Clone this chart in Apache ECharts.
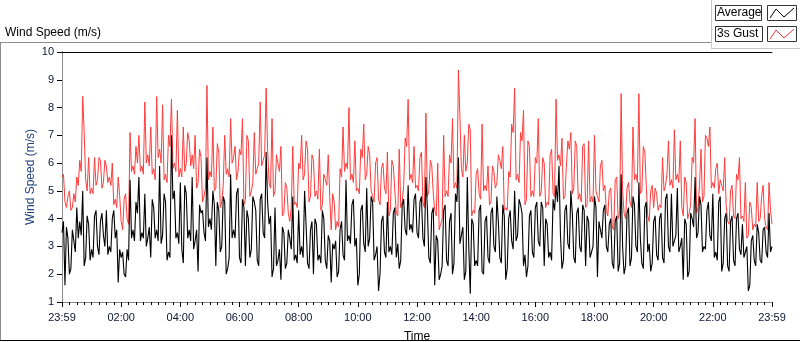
<!DOCTYPE html>
<html>
<head>
<meta charset="utf-8">
<script src="https://cdn.jsdelivr.net/npm/echarts@6/dist/echarts.min.js"></script>
<style>
html,body{margin:0;padding:0;background:#fff;}
#chart{width:800px;height:342px;}
</style>
</head>
<body>
<div id="chart"></div>
<script>
// sample spacing in minutes (first sample at 23:59)
const stepMinutes = 3;
const tickLabels = ['23:59','02:00','04:00','06:00','08:00','10:00','12:00','14:00','16:00','18:00','20:00','22:00','23:59'];
const seriesNames = ['Average','3s Gust'];

const gust = [
5.5,5.6,4.6,4.4,4.8,5.0,4.3,4.4,4.9,4.6,5.5,5.2,6.1,5.7,8.4,7.1,5.4,5.0,6.2,4.9,
5.1,4.9,6.2,5.2,5.4,6.2,6.1,5.1,5.3,6.1,5.9,5.3,5.5,5.2,6.0,4.5,4.7,4.4,5.5,4.8,
3.9,3.6,4.7,4.9,4.0,3.8,7.1,5.7,5.9,5.6,6.6,6.0,7.0,5.7,5.9,5.6,8.2,6.0,6.3,5.9,
7.3,5.6,5.8,5.4,8.4,6.2,6.5,6.0,8.1,5.4,5.6,5.3,7.0,6.6,8.3,5.8,6.0,5.7,7.9,5.5,
5.8,5.5,7.3,5.7,6.0,7.1,6.8,5.9,6.3,5.8,7.0,5.1,5.3,6.5,6.2,4.6,4.8,5.1,8.8,5.4,
5.7,5.5,7.3,5.0,5.1,6.7,6.4,4.4,4.6,5.2,7.0,5.6,5.8,5.5,7.6,6.0,6.2,6.6,5.4,5.7,
6.5,6.3,7.6,4.5,4.7,7.0,6.8,4.8,5.0,5.3,7.1,5.6,5.8,6.0,8.2,5.9,6.1,6.3,8.7,6.5,
5.3,5.1,7.6,4.8,5.0,6.3,6.0,5.7,6.6,4.1,4.2,5.3,5.1,4.2,3.9,4.4,6.6,4.5,4.6,4.4,
6.0,5.8,7.0,5.4,5.6,6.8,6.5,4.6,4.8,6.3,6.1,4.8,5.0,4.7,6.5,4.3,4.5,5.6,5.4,5.2,
6.3,4.8,3.6,4.9,4.6,3.6,3.9,3.7,5.8,5.5,7.3,5.7,6.0,5.8,8.0,5.4,5.6,5.3,6.8,5.0,
5.1,4.9,6.5,6.2,7.4,5.4,5.6,6.6,6.3,5.0,4.8,4.6,6.0,6.2,4.7,4.5,5.8,6.0,5.1,4.9,
6.4,4.1,4.3,6.1,5.9,5.0,4.2,4.1,6.5,4.4,4.6,5.2,6.9,6.6,8.3,5.4,5.6,5.3,6.6,5.1,
5.2,5.0,6.2,6.4,4.6,4.4,7.8,4.8,5.0,6.1,5.9,4.9,4.3,4.1,6.0,3.6,3.8,4.0,7.0,4.8,
5.0,4.8,6.3,6.0,7.6,5.1,5.3,5.1,9.35,7.7,5.8,5.5,7.0,5.7,6.0,7.4,7.2,4.1,4.3,4.2,
5.6,5.8,4.9,4.7,7.4,5.0,5.2,5.0,5.9,4.5,4.6,5.9,5.7,5.1,5.3,6.3,6.1,5.8,6.6,4.3,
4.4,4.3,5.7,5.5,7.4,7.1,8.7,5.4,5.6,5.3,7.1,6.8,7.9,4.5,4.7,6.8,6.6,4.8,5.0,4.8,
6.2,6.0,7.6,4.8,5.0,6.2,6.0,4.4,4.6,4.5,6.3,6.5,4.9,4.8,8.3,6.1,6.3,5.9,6.9,4.7,
4.8,5.9,6.8,6.5,7.1,4.9,5.1,6.8,6.6,4.7,4.9,4.6,6.6,6.7,4.4,4.5,6.8,4.6,4.8,4.6,
7.0,5.0,4.8,4.6,5.9,6.1,5.0,5.2,4.3,4.1,5.0,5.1,3.7,3.6,5.4,5.5,4.0,4.2,8.5,5.0,
4.2,4.0,5.1,5.3,4.6,4.4,7.3,5.4,5.6,5.3,8.5,4.9,5.0,6.6,6.4,5.2,4.1,3.9,5.0,5.2,
4.4,5.1,4.9,4.3,4.5,4.4,6.2,5.0,5.2,5.6,6.8,5.2,5.4,5.1,7.2,5.4,5.6,5.3,6.8,4.4,
4.1,5.5,5.3,4.0,4.2,4.5,6.2,6.0,7.6,4.2,4.4,5.2,6.5,4.6,4.8,7.0,6.9,6.6,7.3,5.1,
5.3,5.1,5.8,6.0,4.9,5.4,5.2,5.0,6.2,4.5,3.9,3.8,5.0,5.2,4.1,4.0,5.6,5.4,6.2,4.0,
4.1,3.9,5.3,3.3,3.4,4.6,4.4,3.6,3.8,3.7,5.3,3.9,4.0,4.8,5.2,4.0,3.7,3.6,5.3,4.3,
3.8
];

const average = [
3.5,3.9,1.6,3.7,3.3,2.0,2.2,3.6,3.2,2.8,4.4,3.3,3.9,3.4,5.0,2.3,2.6,4.1,3.8,2.5,
2.9,2.6,4.1,4.3,3.0,2.7,3.9,4.2,3.4,3.0,4.3,2.7,3.0,2.8,4.0,4.3,3.3,3.6,1.7,2.9,
2.6,2.8,2.0,1.9,2.9,2.5,5.4,3.3,3.6,3.2,4.6,4.2,5.5,3.2,3.5,3.3,4.9,3.0,3.3,3.7,
2.6,4.7,4.4,3.3,3.6,3.2,5.9,3.1,3.4,4.9,4.6,2.5,2.8,2.6,7.0,4.7,5.0,3.3,3.5,3.1,
5.3,2.9,2.4,5.2,4.9,3.3,3.6,3.2,5.5,2.9,3.2,3.6,2.1,4.5,4.2,4.3,3.5,3.2,6.2,3.7,
4.0,3.6,5.0,4.5,2.3,4.6,4.3,2.8,3.0,4.8,4.6,2.0,2.2,2.6,5.6,3.3,3.6,3.3,4.9,5.1,
2.6,2.4,4.7,4.4,2.3,4.3,4.0,2.6,2.9,4.8,4.6,4.3,2.5,2.3,4.7,4.9,3.5,3.3,6.4,4.6,
3.8,4.1,1.9,2.2,4.4,2.3,2.5,2.9,1.8,3.7,3.5,2.2,2.4,3.6,3.3,2.9,4.8,2.5,2.7,2.4,
4.3,2.7,3.0,2.6,5.0,3.8,2.4,2.2,3.6,3.9,2.0,4.0,3.8,2.5,2.7,2.4,4.3,4.0,2.5,2.2,
3.4,3.2,1.7,3.1,2.9,3.2,1.9,2.1,3.6,3.9,2.7,2.5,5.4,3.2,3.4,3.1,4.5,4.7,3.0,3.3,
1.6,2.0,4.3,4.5,3.1,2.8,5.1,3.0,3.3,4.8,4.6,2.5,2.7,3.0,1.4,2.0,3.9,4.1,2.8,2.6,
4.6,2.8,3.0,2.7,4.2,4.4,2.6,3.1,2.2,2.5,4.5,4.7,3.6,3.4,5.2,3.6,3.8,3.5,4.7,4.9,
3.5,3.3,4.6,4.8,3.3,3.0,5.5,4.4,2.6,2.4,4.2,4.4,1.6,3.4,3.2,1.8,2.0,2.3,4.3,4.5,
2.5,2.3,3.9,4.2,2.0,2.4,4.9,4.6,6.2,3.1,3.4,3.7,1.8,2.1,5.5,3.0,1.3,4.0,3.8,2.3,
2.5,2.3,4.3,4.5,2.1,2.0,3.9,4.1,2.6,2.4,4.2,4.4,3.0,2.8,4.8,3.9,2.6,2.4,4.5,4.1,
1.8,2.2,4.0,4.3,3.2,2.9,5.0,3.2,3.4,4.7,4.5,4.2,2.3,2.7,1.9,2.3,4.1,4.3,2.8,2.6,
4.4,4.6,3.2,3.0,4.6,4.4,2.3,4.0,3.8,2.6,2.8,2.5,4.7,4.3,5.2,4.6,5.9,3.4,2.2,2.5,
4.3,4.5,3.1,2.9,5.0,4.2,2.6,2.4,4.2,4.4,3.0,2.8,4.5,4.3,2.3,4.1,3.9,2.6,2.8,3.0,
4.8,4.4,1.9,3.9,3.6,3.3,4.3,4.5,3.0,2.8,3.8,4.0,2.4,2.2,3.9,4.1,2.1,2.4,5.6,3.0,
2.0,2.3,4.2,4.4,2.3,2.6,4.8,4.5,3.0,2.8,5.3,3.3,2.4,2.2,4.4,4.6,2.8,3.1,2.1,2.4,
3.9,4.1,2.7,2.5,4.0,4.2,2.6,2.4,4.7,4.9,3.0,2.8,4.9,3.0,3.2,3.4,5.1,2.8,3.0,3.3,
1.8,4.0,3.8,1.9,2.1,4.2,4.0,3.7,5.5,3.3,3.5,4.8,4.5,2.8,3.0,2.9,4.3,4.6,3.4,3.2,
4.9,2.6,2.8,2.5,4.6,4.8,2.1,2.4,4.0,4.2,2.3,2.1,3.9,4.1,2.5,2.3,4.0,4.2,2.9,2.7,
3.8,2.6,2.8,3.0,1.4,1.6,3.2,3.4,2.5,2.3,3.8,3.5,2.5,2.4,3.6,3.7,2.8,2.6,4.2,2.8,
3.0
];

const toPairs = arr => arr.map((v, i) => [i * stepMinutes, v]);

const chart = echarts.init(document.getElementById('chart'), null, {renderer: 'canvas'});
const labelFont = 'Liberation Sans, Arial, sans-serif';

chart.setOption({
  animation: false,
  backgroundColor: '#ffffff',
  grid: {left: 62, right: 28, top: 52, bottom: 40, containLabel: false, outerBoundsMode: 'none'},
  xAxis: [{
    type: 'value', min: 0, max: 1440, interval: 120,
    name: 'Time', nameLocation: 'middle', nameGap: 29, nameMoveOverlap: false,
    nameTextStyle: {color: '#000', fontSize: 12, fontFamily: labelFont},
    axisLine: {show: true, lineStyle: {color: '#8c8c8c', width: 1}},
    axisTick: {show: true, length: 5, lineStyle: {color: '#000'}},
    minorTick: {show: true, splitNumber: 8, length: 3, lineStyle: {color: '#000'}},
    splitLine: {show: false},
    axisLabel: {margin: 10, color: '#0c1430', fontSize: 11, fontFamily: labelFont,
      formatter: v => tickLabels[Math.round(v / 120)] || ''}
  }, {
    type: 'value', min: 0, max: 1440, position: 'top',
    axisLine: {show: true, lineStyle: {color: '#000', width: 1}},
    axisTick: {show: false}, axisLabel: {show: false}, splitLine: {show: false}
  }],
  yAxis: [{
    type: 'value', min: 1, max: 10, interval: 1,
    name: 'Wind Speed (m/s)', nameLocation: 'middle', nameGap: 25, nameRotate: 90, nameMoveOverlap: false,
    nameTextStyle: {color: '#23407e', fontSize: 12, fontFamily: labelFont},
    axisLine: {show: true, lineStyle: {color: '#000', width: 1}},
    axisTick: {show: true, length: 5, lineStyle: {color: '#000'}},
    splitLine: {show: false},
    axisLabel: {margin: 8, color: '#0c1430', fontSize: 11, fontFamily: labelFont}
  }, {
    type: 'value', min: 1, max: 10, position: 'right',
    axisLine: {show: true, lineStyle: {color: '#8c8c8c', width: 1}},
    axisTick: {show: false}, axisLabel: {show: false}, splitLine: {show: false}
  }],
  series: [{
    name: seriesNames[1], type: 'line', data: toPairs(gust),
    symbol: 'none', z: 2,
    lineStyle: {color: '#ff3c3c', width: 1}
  }, {
    name: seriesNames[0], type: 'line', data: toPairs(average),
    symbol: 'none', z: 3,
    lineStyle: {color: '#000000', width: 1.1}
  }],
  graphic: [
    {type: 'text', left: 5, top: 27, style: {text: 'Wind Speed (m/s)', fill: '#000', font: '12px ' + labelFont}},
    {type: 'line', shape: {x1: 0, y1: 42.5, x2: 712, y2: 42.5}, style: {stroke: '#8c8c8c', lineWidth: 1}},
    {type: 'line', shape: {x1: 0.5, y1: 42, x2: 0.5, y2: 341}, style: {stroke: '#8c8c8c', lineWidth: 1}},
    {type: 'line', shape: {x1: 0, y1: 340.5, x2: 800, y2: 340.5}, style: {stroke: '#000', lineWidth: 1}},
    {type: 'line', shape: {x1: 711.5, y1: 0, x2: 711.5, y2: 48}, style: {stroke: '#c8c8c8', lineWidth: 1}},
    {type: 'line', shape: {x1: 711, y1: 48.5, x2: 800, y2: 48.5}, style: {stroke: '#c8c8c8', lineWidth: 1}},
    {type: 'rect', shape: {x: 715.5, y: 5.5, width: 46, height: 15}, style: {fill: '#fff', stroke: '#333', lineWidth: 1}},
    {type: 'text', left: 717, top: 7, style: {text: seriesNames[0], fill: '#000', font: '12px ' + labelFont}},
    {type: 'rect', shape: {x: 767.5, y: 5.5, width: 29, height: 15}, style: {fill: '#fff', stroke: '#333', lineWidth: 1}},
    {type: 'polyline', shape: {points: [[770,18],[776,9],[784,17],[794,8]]}, style: {stroke: '#000', lineWidth: 1, fill: null}},
    {type: 'rect', shape: {x: 715.5, y: 26.5, width: 47, height: 15}, style: {fill: '#fff', stroke: '#333', lineWidth: 1}},
    {type: 'text', left: 717, top: 28, style: {text: seriesNames[1], fill: '#000', font: '12px ' + labelFont}},
    {type: 'rect', shape: {x: 767.5, y: 26.5, width: 29, height: 15}, style: {fill: '#fff', stroke: '#333', lineWidth: 1}},
    {type: 'polyline', shape: {points: [[770,39],[776,30],[784,38],[794,29]]}, style: {stroke: '#ff3030', lineWidth: 1, fill: null}}
  ]
});
</script>
</body>
</html>
